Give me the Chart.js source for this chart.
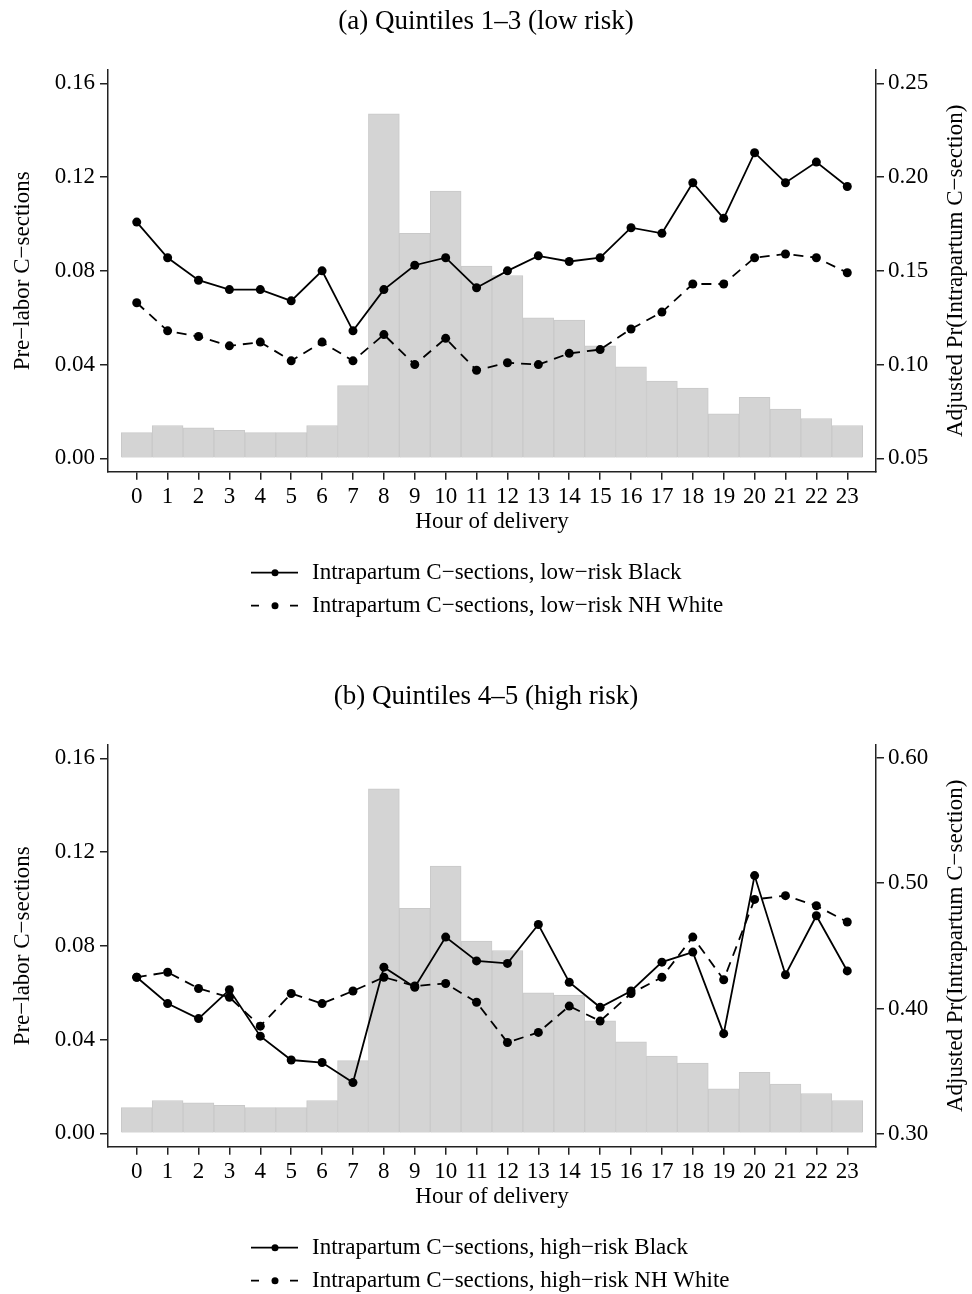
<!DOCTYPE html>
<html>
<head>
<meta charset="utf-8">
<script src="https://cdn.jsdelivr.net/npm/chart.js@4.4.1/dist/chart.umd.min.js"></script>
<style>
  body { margin: 0; background: #fff; }
  canvas { display: block; }
</style>
</head>
<body>
<canvas id="chartLow" width="972" height="675"></canvas>
<canvas id="chartHigh" width="972" height="619"></canvas>
<script>
// hour of delivery
const hours = [0, 1, 2, 3, 4, 5, 6, 7, 8, 9, 10, 11, 12, 13, 14, 15, 16, 17, 18, 19, 20, 21, 22, 23];

// share of pre-labor C-sections by hour (left axis, same in both panels)
const preLabor = [0.011, 0.014, 0.013, 0.012, 0.011, 0.011, 0.014, 0.031, 0.147, 0.096, 0.114, 0.082,
                  0.078, 0.060, 0.059, 0.048, 0.039, 0.033, 0.030, 0.019, 0.026, 0.021, 0.017, 0.014];

// adjusted Pr(intrapartum C-section), right axis
const lowBlack  = [0.176, 0.157, 0.145, 0.140, 0.140, 0.134, 0.150, 0.118, 0.140, 0.153, 0.157, 0.141,
                   0.150, 0.158, 0.155, 0.157, 0.173, 0.170, 0.197, 0.178, 0.213, 0.197, 0.208, 0.195];
const lowWhite  = [0.133, 0.118, 0.115, 0.110, 0.112, 0.102, 0.112, 0.102, 0.116, 0.100, 0.114, 0.097,
                   0.101, 0.100, 0.106, 0.108, 0.119, 0.128, 0.143, 0.143, 0.157, 0.159, 0.157, 0.149];
const highBlack = [0.425, 0.404, 0.392, 0.415, 0.378, 0.359, 0.357, 0.341, 0.433, 0.417, 0.457, 0.438,
                   0.436, 0.467, 0.421, 0.401, 0.414, 0.437, 0.445, 0.380, 0.506, 0.427, 0.474, 0.430];
const highWhite = [0.425, 0.429, 0.416, 0.409, 0.386, 0.412, 0.404, 0.414, 0.425, 0.418, 0.420, 0.405,
                   0.373, 0.381, 0.402, 0.390, 0.412, 0.425, 0.457, 0.423, 0.487, 0.490, 0.482, 0.469];

// tick labels
const leftTicks = [0, 0.04, 0.08, 0.12, 0.16];
const lowRightTicks = [0.05, 0.10, 0.15, 0.20, 0.25];
const highRightTicks = [0.30, 0.40, 0.50, 0.60];

const SERIF = "'Liberation Serif', 'Times New Roman', serif";
Chart.defaults.font.family = SERIF;
Chart.defaults.color = '#000';

// legend rows under the x axis + right axis title read bottom-to-top (Stata style)
const stataExtras = {
    id: 'stataExtras',
    afterDraw(chart, args, opts) {
        const ctx = chart.ctx;
        const area = chart.chartArea;
        ctx.save();
        ctx.font = '23px ' + SERIF;
        ctx.fillStyle = '#000';
        ctx.strokeStyle = '#000';
        ctx.lineWidth = 1.8;
        ctx.textBaseline = 'middle';

        const lines = chart.data.datasets.filter(d => d.type === 'line');
        lines.forEach((ds, i) => {
            const y = area.bottom + 101 + i * 33;
            ctx.beginPath();
            if (ds.borderDash && ds.borderDash.length) {
                ctx.moveTo(251, y); ctx.lineTo(259, y);
                ctx.moveTo(290, y); ctx.lineTo(298, y);
            } else {
                ctx.moveTo(251, y); ctx.lineTo(298, y);
            }
            ctx.stroke();
            ctx.beginPath();
            ctx.arc(275, y, 3.5, 0, Math.PI * 2);
            ctx.fill();
            ctx.fillText(ds.label, 312, y);
        });

        ctx.translate(956, (area.top + area.bottom) / 2);
        ctx.rotate(-Math.PI / 2);
        ctx.textAlign = 'center';
        ctx.fillText(opts.rightTitle, 0, 0);
        ctx.restore();
    }
};

function axisStyle() {
    return {
        grid: { drawOnChartArea: false, tickLength: 8, color: '#222', lineWidth: 1.5, offset: false },
        border: { color: '#222', width: 1.5 }
    };
}

function makeChart(id, cfg) {
    const pts = arr => hours.map((h, i) => ({ x: h, y: arr[i] }));
    const canvas = document.getElementById(id);
    return new Chart(canvas.getContext('2d'), {
        data: {
            datasets: [
                {
                    type: 'line',
                    label: cfg.blackLabel,
                    data: pts(cfg.black),
                    yAxisID: 'y2',
                    borderColor: '#000',
                    borderWidth: 1.8,
                    pointRadius: 4.5,
                    pointBackgroundColor: '#000',
                    pointBorderWidth: 0,
                    tension: 0,
                    order: 0
                },
                {
                    type: 'line',
                    label: cfg.whiteLabel,
                    data: pts(cfg.white),
                    yAxisID: 'y2',
                    borderColor: '#000',
                    borderWidth: 1.8,
                    borderDash: [10, 7],
                    pointRadius: 4.5,
                    pointBackgroundColor: '#000',
                    pointBorderWidth: 0,
                    tension: 0,
                    order: 1
                },
                {
                    type: 'bar',
                    label: 'Pre-labor C-sections',
                    data: pts(preLabor),
                    yAxisID: 'y',
                    backgroundColor: '#d4d4d4',
                    borderColor: '#c9c9c9',
                    borderWidth: 1,
                    barPercentage: 1,
                    categoryPercentage: 1,
                    order: 2
                }
            ]
        },
        options: {
            responsive: false,
            animation: false,
            devicePixelRatio: 1,
            layout: { padding: { top: 0, left: 0, right: 0, bottom: cfg.padBottom } },
            plugins: {
                legend: { display: false },
                tooltip: { enabled: false },
                title: {
                    display: true,
                    text: cfg.title,
                    font: { size: 27, weight: 'normal', family: SERIF },
                    color: '#000',
                    padding: { top: 6, bottom: 31.6 }
                },
                stataExtras: { rightTitle: 'Adjusted Pr(Intrapartum C\u2212section)' }
            },
            scales: {
                x: {
                    type: 'linear',
                    position: 'bottom',
                    offset: false,
                    min: -0.93,
                    max: 23.93,
                    afterBuildTicks: s => { s.ticks = hours.map(v => ({ value: v })); },
                    afterFit: s => { s.height = 80; },
                    ...axisStyle(),
                    ticks: { font: { size: 23 }, color: '#000', padding: 3, maxRotation: 0, autoSkip: false },
                    title: { display: true, text: 'Hour of delivery', font: { size: 23 }, color: '#000', padding: { top: 0, bottom: 16 } }
                },
                y: {
                    position: 'left',
                    min: -0.0057,
                    max: 0.1657,
                    afterBuildTicks: s => { s.ticks = leftTicks.map(v => ({ value: v })); },
                    afterFit: s => { s.width = 108; },
                    ...axisStyle(),
                    ticks: { font: { size: 23 }, color: '#000', padding: 5, callback: v => v.toFixed(2) },
                    title: { display: true, text: 'Pre\u2212labor C\u2212sections', font: { size: 23 }, color: '#000', padding: { top: 9, bottom: 0 } }
                },
                y2: {
                    position: 'right',
                    min: cfg.rightMin,
                    max: cfg.rightMax,
                    afterBuildTicks: s => { s.ticks = cfg.rightTicks.map(v => ({ value: v })); },
                    afterFit: s => { s.width = 96; },
                    ...axisStyle(),
                    ticks: { font: { size: 23 }, color: '#000', padding: 4, callback: v => v.toFixed(2) }
                }
            }
        },
        plugins: [stataExtras]
    });
}

makeChart('chartLow', {
    title: '(a) Quintiles 1\u20133 (low risk)',
    black: lowBlack,
    white: lowWhite,
    blackLabel: 'Intrapartum C\u2212sections, low\u2212risk Black',
    whiteLabel: 'Intrapartum C\u2212sections, low\u2212risk NH White',
    rightTicks: lowRightTicks,
    rightMin: 0.0429,
    rightMax: 0.2571,
    padBottom: 123.3
});

makeChart('chartHigh', {
    title: '(b) Quintiles 4\u20135 (high risk)',
    black: highBlack,
    white: highWhite,
    blackLabel: 'Intrapartum C\u2212sections, high\u2212risk Black',
    whiteLabel: 'Intrapartum C\u2212sections, high\u2212risk NH White',
    rightTicks: highRightTicks,
    rightMin: 0.2899,
    rightMax: 0.6101,
    padBottom: 67.3
});
</script>
</body>
</html>
